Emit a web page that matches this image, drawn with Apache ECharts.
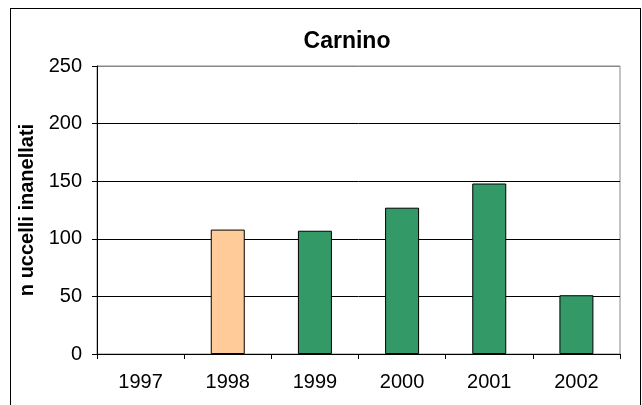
<!DOCTYPE html>
<html lang="it">
<head>
    <meta charset="UTF-8">
    <title>Carnino</title>
    <script src="https://cdn.jsdelivr.net/npm/echarts@6/dist/echarts.min.js"></script>
    <style>
        html, body { margin: 0; padding: 0; background: #fff; }
        #frame { position: absolute; left: 10px; top: 8px; width: 631px; height: 410px; border: 1px solid #000; box-sizing: border-box; }
        #myChart { width: 642px; height: 405px; }
    </style>
</head>
<body>
    <div id="frame"></div>
    <div id="myChart"></div>
    <script>
        // dati
        const anni = ['1997', '1998', '1999', '2000', '2001', '2002'];
        const uccelli = [null, 108, 107, 127, 148, 51];
        const yTicks = [0, 50, 100, 150, 200, 250];
        const evidenziato = '1998';

        var myChart = echarts.init(document.getElementById('myChart'));

        var font = 'Liberation Sans, Arial';
        var option = {
            animation: false,
            title: {
                text: 'Carnino',
                left: 342,
                top: 25,
                textAlign: 'center',
                textStyle: { fontFamily: font, fontSize: 23, fontWeight: 'bold', color: '#000' }
            },
            grid: { left: 97, right: 22, top: 66, bottom: 51, show: true, borderColor: '#888', borderWidth: 1 },
            xAxis: {
                type: 'category',
                data: anni,
                axisLine: { lineStyle: { color: '#000', width: 1 } },
                axisTick: { show: true, alignWithLabel: false, length: 5, lineStyle: { color: '#000' } },
                axisLabel: { fontFamily: font, fontSize: 20, color: '#000', margin: 18 }
            },
            yAxis: {
                type: 'value',
                min: yTicks[0],
                max: yTicks[yTicks.length - 1],
                interval: 50,
                name: 'n uccelli inanellati',
                nameLocation: 'middle',
                nameGap: 47,
                nameTextStyle: { fontFamily: font, fontSize: 20, fontWeight: 'bold', color: '#000' },
                axisLine: { show: true, lineStyle: { color: '#000', width: 1 } },
                axisTick: { show: true, length: 5, lineStyle: { color: '#000' } },
                axisLabel: { fontFamily: font, fontSize: 20, color: '#000', margin: 15 },
                // la linea in alto (250) è il bordo grigio dell'area
                splitLine: { show: true, lineStyle: { color: ['#000', '#000', '#000', '#000', '#000', '#888'], width: 1 } }
            },
            series: [{
                type: 'bar',
                barWidth: 34,
                data: uccelli,
                itemStyle: {
                    borderColor: '#000',
                    borderWidth: 1,
                    color: function (p) { return p.name === evidenziato ? '#FFCC99' : '#339966'; }
                }
            }]
        };
        myChart.setOption(option);
    </script>
</body>
</html>
